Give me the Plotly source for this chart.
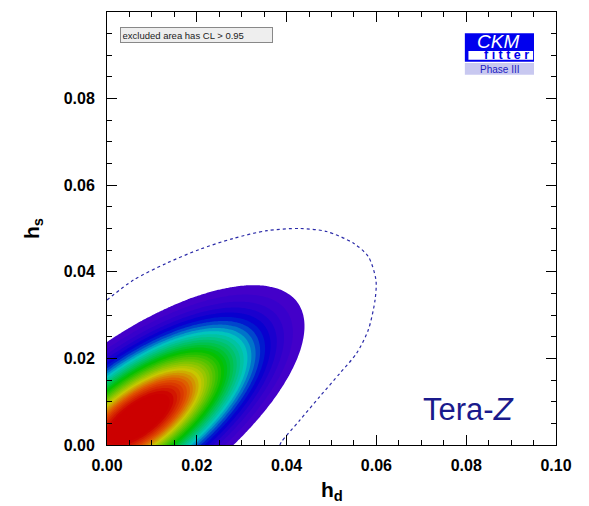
import numpy as np
import plotly.graph_objects as go

# ---- axis ticks ----
tick_vals = [0.00, 0.02, 0.04, 0.06, 0.08, 0.10]
tick_text = ["0.00", "0.02", "0.04", "0.06", "0.08", "0.10"]

# ---- filled region (Tera-Z, 1-CL map) : parameters ----
best_fit_hd = 0.007
best_fit_hs = 0.006
major_half_axis = 0.0445
minor_half_axis = 0.0185
tilt_deg = 37.7
excl_cl = 0.05  # excluded area has CL > 0.95

# ---- dashed contour ----
dash_hd = [0.0000, 0.0059, 0.0133, 0.0207, 0.0281, 0.0356, 0.0430, 0.0489, 0.0549,
           0.0582, 0.0599, 0.0597, 0.0582, 0.0556, 0.0519, 0.0474, 0.0430, 0.0389, 0.0385]
dash_hs = [0.0335, 0.0381, 0.0420, 0.0452, 0.0477, 0.0495, 0.0500, 0.0493, 0.0466,
           0.0435, 0.0381, 0.0335, 0.0266, 0.0212, 0.0166, 0.0112, 0.0058, 0.0008, 0.0000]

# grid
gx = np.linspace(0, 0.1, 241)
gy = np.linspace(0, 0.1, 241)
X, Y = np.meshgrid(gx, gy)
t = np.deg2rad(tilt_deg)
dx = X - best_fit_hd
dy = Y - best_fit_hs
u = np.cos(t) * dx + np.sin(t) * dy
v = -np.sin(t) * dx + np.cos(t) * dy
r2 = (u / major_half_axis) ** 2 + (v / minor_half_axis) ** 2
pval = np.round(excl_cl ** r2, 4)

# colour scale spans [start - size/2, end + size/2] of the contour levels
cscale = [
    [0.0, "#ffffff"], [0.012, "#ffffff"],
    [0.013, "#4800c8"], [0.07, "#3000cc"], [0.14, "#0000d0"], [0.25, "#00c4c4"],
    [0.43, "#00c000"], [0.64, "#c8c800"], [0.76, "#e05000"],
    [0.88, "#cc0000"], [1.0, "#cc0000"],
]

fig = go.Figure()
fig.add_trace(go.Contour(
    x=gx, y=gy, z=pval, colorscale=cscale, showscale=False, autocontour=False,
    contours=dict(start=excl_cl, end=1.0, size=0.025, coloring="fill"),
    line=dict(width=0), hoverinfo="skip",
))
fig.add_trace(go.Scatter(
    x=dash_hd, y=dash_hs, mode="lines",
    line=dict(color="#2a2aa8", width=1.2, dash="3px,3px", shape="spline", smoothing=0.8),
    hoverinfo="skip", showlegend=False,
))

axis_common = dict(
    range=[0, 0.1], tickvals=tick_vals, ticktext=tick_text, automargin=False,
    ticks="inside", ticklen=10, tickwidth=1, tickcolor="black",
    showline=True, linecolor="black", linewidth=1, mirror="allticks",
    showgrid=False, zeroline=False,
    tickfont=dict(family="Liberation Sans, Arial", size=16, color="black", weight="bold"),
    minor=dict(dtick=0.005, tick0=0, ticks="inside", ticklen=5, tickcolor="black", showgrid=False),
)

# page body has an 8px margin: figure 581x498 so the plot area lands at 107..556 x 12..445
fig.update_layout(
    width=581, height=498,
    margin=dict(l=99, r=33, t=4, b=61),
    paper_bgcolor="white", plot_bgcolor="white",
    showlegend=False,
    xaxis=dict(**axis_common, ticklabelstandoff=6),
    yaxis=dict(**axis_common, ticklabelstandoff=8),
)

# axis titles
fig.add_annotation(xref="paper", yref="paper", x=0.50, y=-0.071, xanchor="center", yanchor="top",
                   text="<b>h<sub>d</sub></b>", showarrow=False,
                   font=dict(family="Liberation Sans, Arial", size=21, color="black"))
fig.add_annotation(xref="paper", yref="paper", x=-0.165, y=0.501, xanchor="center", yanchor="middle",
                   text="<b>h<sub>s</sub></b>", showarrow=False, textangle=-90,
                   font=dict(family="Liberation Sans, Arial", size=21, color="black"))

# legend box
fig.add_annotation(
    xref="paper", yref="paper", x=0.029, y=0.966, xanchor="left", yanchor="top",
    text="excluded area has CL > 0.95", showarrow=False,
    font=dict(family="Liberation Sans, Arial", size=9.5, color="#222222"),
    bgcolor="#eeeeee", bordercolor="#888888", borderwidth=1, borderpad=1.5,
    width=148, align="left",
)

# CKMfitter logo
fig.add_shape(type="rect", xref="paper", yref="paper", x0=0.797, x1=0.951, y0=0.885, y1=0.951,
              fillcolor="#0000ee", line=dict(width=0), layer="above")
fig.add_shape(type="rect", xref="paper", yref="paper", x0=0.805, x1=0.949, y0=0.890, y1=0.910,
              fillcolor="white", line=dict(width=0), layer="above")
fig.add_shape(type="rect", xref="paper", yref="paper", x0=0.797, x1=0.951, y0=0.855, y1=0.882,
              fillcolor="#c8c8f0", line=dict(width=0), layer="above")
fig.add_annotation(xref="paper", yref="paper", x=0.870, y=0.931, xanchor="center", yanchor="middle",
                   text="<i>CKM</i>", showarrow=False,
                   font=dict(family="Liberation Sans, Arial", size=19, color="white"))
fig.add_annotation(xref="paper", yref="paper", x=0.890, y=0.900, xanchor="center", yanchor="middle",
                   text="<b>f i t t e r</b>", showarrow=False,
                   font=dict(family="Liberation Sans, Arial", size=12.5, color="#0000ee"))
fig.add_annotation(xref="paper", yref="paper", x=0.874, y=0.868, xanchor="center", yanchor="middle",
                   text="Phase III", showarrow=False,
                   font=dict(family="Liberation Sans, Arial", size=10, color="#2020c0"))

# Tera-Z label
fig.add_annotation(xref="paper", yref="paper", x=0.912, y=0.081, xanchor="right", yanchor="middle",
                   text="Tera-<i>Z</i>", showarrow=False,
                   font=dict(family="Liberation Sans, Arial", size=31, color="#1a1a8c"))

# small mark top right
fig.add_annotation(xref="paper", yref="paper", x=0.973, y=1.015, xanchor="center", yanchor="middle",
                   text="-", showarrow=False,
                   font=dict(family="Liberation Sans, Arial", size=9, color="black"))

fig.write_html("out.html")
